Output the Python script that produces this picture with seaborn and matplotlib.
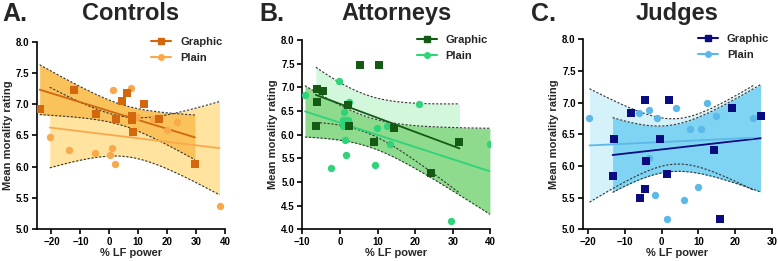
import numpy as np
import matplotlib
matplotlib.use("Agg")
import matplotlib.pyplot as plt
import seaborn as sns
from matplotlib.lines import Line2D

sns.set_style("ticks")
plt.rcParams['font.family'] = ['Liberation Sans', 'DejaVu Sans']
plt.rcParams['font.weight'] = 'bold'
plt.rcParams['axes.labelweight'] = 'bold'

# values
controls_graphic_x = [-24.1, -12.1, -4.7, 2.3, 4.4, 6.2, 7.9, 7.9, 8.1, 12.1, 17.1, 29.6]
controls_graphic_y = [6.93, 7.22, 6.84, 6.76, 7.05, 7.18, 6.81, 6.75, 6.55, 7.01, 6.76, 6.04]
controls_plain_x = [-20.6, -13.9, -4.9, 0.1, 0.8, 1.9, 1.3, 7.5, 9.7, 15.1, 20.0, 23.3, 38.1]
controls_plain_y = [6.47, 6.26, 6.22, 6.18, 6.30, 6.05, 7.22, 7.26, 6.80, 6.76, 6.59, 6.72, 5.37]

attorneys_graphic_x = [-6.2, -4.6, -6.0, -6.4, 2.2, 2.3, 5.3, 10.4, 9.0, 14.3, 31.8, 24.2]
attorneys_graphic_y = [6.97, 6.93, 6.68, 6.18, 6.63, 6.18, 7.48, 7.48, 5.85, 6.14, 5.85, 5.18]
attorneys_plain_x = [-9.3, -2.4, -0.2, 1.0, 0.9, 1.6, 2.2, 0.9, 1.4, 1.7, 2.5, 9.4, 9.9, 12.6, 13.3, 21.1, 39.9, 29.5]
attorneys_plain_y = [6.84, 5.30, 7.14, 6.47, 6.30, 6.30, 6.30, 6.18, 5.89, 5.56, 6.68, 5.35, 6.14, 6.18, 5.80, 6.64, 5.80, 4.18]

judges_graphic_x = [-12.9, -13.4, -8.4, -4.5, -0.5, -4.2, -4.5, -6.0, 2.0, 1.5, 14.3, 16.0, 19.2, 27.0]
judges_graphic_y = [6.42, 5.84, 6.84, 7.04, 6.42, 6.08, 5.63, 5.50, 7.04, 5.88, 6.25, 5.17, 6.92, 6.79]
judges_plain_x = [-19.7, -6.1, -3.4, -1.3, -3.4, -1.9, 3.9, 1.4, 7.6, 10.7, 12.4, 14.9, 10.0, 6.0, 25.0]
judges_plain_y = [6.75, 6.84, 6.88, 6.75, 6.13, 5.54, 6.92, 5.17, 6.58, 6.58, 7.0, 6.79, 5.67, 5.46, 6.75]

titles = ["Controls", "Attorneys", "Judges"]
letters = ["A.", "B.", "C."]
xlims = [(-25, 40), (-10, 40), (-21.4, 30)]
xticks = [[-20, -10, 0, 10, 20, 30, 40], [-10, 0, 10, 20, 30, 40], [-20, -10, 0, 10, 20, 30]]
ylims = [(5.0, 8.0), (4.0, 8.0), (5.0, 8.0)]

panels = [
    dict(g=(controls_graphic_x, controls_graphic_y), p=(controls_plain_x, controls_plain_y),
         gc="#D2670E", pc="#F9A94B", gfill="#F9C25A", pfill="#FFE39E", top="g"),
    dict(g=(attorneys_graphic_x, attorneys_graphic_y), p=(attorneys_plain_x, attorneys_plain_y),
         gc="#145A14", pc="#2FD37A", gfill="#D2F7DA", pfill="#8EDB8E", top="p"),
    dict(g=(judges_graphic_x, judges_graphic_y), p=(judges_plain_x, judges_plain_y),
         gc="#0B0B80", pc="#5BB8E8", gfill="#7FD4F3", pfill="#D5F1FA", top="g"),
]
positions = [[0.0476, 0.1215, 0.2416, 0.719],
             [0.3886, 0.1215, 0.2416, 0.7253],
             [0.7497, 0.1215, 0.2422, 0.728]]


def tcrit(df):
    z = 1.959964
    return (z + (z**3 + z) / (4 * df) + (5 * z**5 + 16 * z**3 + 3 * z) / (96 * df**2)
            + (3 * z**7 + 19 * z**5 + 17 * z**3 - 15 * z) / (384 * df**3))


def conf_band(x, y):
    x = np.asarray(x, float)
    y = np.asarray(y, float)
    n = len(x)
    b, a = np.polyfit(x, y, 1)
    grid = np.linspace(x.min(), x.max(), 120)
    fit = a + b * grid
    s = np.sqrt(((y - (a + b * x))**2).sum() / (n - 2))
    sxx = ((x - x.mean())**2).sum()
    h = tcrit(n - 2) * s * np.sqrt(1 / n + (grid - x.mean())**2 / sxx)
    return grid, fit - h, fit + h


fig = plt.figure(figsize=(7.78, 2.61), dpi=100)

for i, d in enumerate(panels):
    ax = fig.add_axes(positions[i])
    order = ["p", "g"] if d["top"] == "g" else ["g", "p"]
    for z, k in enumerate(order):
        gx, lo, hi = conf_band(*d[k])
        ax.fill_between(gx, lo, hi, color=d[k + "fill"], lw=0, zorder=1 + z)
    for k in ["g", "p"]:
        gx, lo, hi = conf_band(*d[k])
        ax.plot(gx, lo, ls=(0, (2, 1.5)), color="#333333", lw=0.8, zorder=3)
        ax.plot(gx, hi, ls=(0, (2, 1.5)), color="#333333", lw=0.8, zorder=3)
    for k in ["g", "p"]:
        sns.regplot(x=np.array(d[k][0]), y=np.array(d[k][1]), ax=ax, scatter=False, ci=None,
                    truncate=True, color=d[k + "c"], line_kws=dict(lw=1.3, zorder=4))
    for k, m in [("p", "o"), ("g", "s")]:
        sns.scatterplot(x=d[k][0], y=d[k][1], ax=ax, marker=m, color=d[k + "c"], s=28,
                        linewidth=0, zorder=5)

    ax.set_xlim(*xlims[i])
    ax.set_ylim(*ylims[i])
    ax.set_xticks(xticks[i])
    ax.set_yticks(np.arange(ylims[i][0], ylims[i][1] + 0.01, 0.5))
    ax.set_yticklabels([f"{v:.1f}" for v in ax.get_yticks()])
    ax.tick_params(labelsize=7, length=3.5, width=1.2, pad=2, colors="black")
    for t in ax.get_xticklabels() + ax.get_yticklabels():
        t.set_fontweight("bold")
    for sp in ["top", "right"]:
        ax.spines[sp].set_visible(False)
    for sp in ["left", "bottom"]:
        ax.spines[sp].set_linewidth(1.2)
        ax.spines[sp].set_color("black")
    ax.set_xlabel("% LF power", fontsize=8, fontweight="bold", labelpad=1)
    ax.set_ylabel("Mean morality rating", fontsize=8, fontweight="bold", labelpad=2)

    handles = [Line2D([0], [0], color=d["gc"], marker="s", markersize=4, lw=1.5),
               Line2D([0], [0], color=d["pc"], marker="o", markersize=4, lw=1.5)]
    ax.legend(handles, ["Graphic", "Plain"], loc="upper right", bbox_to_anchor=(1.04, 1.08),
              frameon=False, prop=dict(size=8, weight="bold"), handlelength=1.8,
              labelspacing=0.55, handletextpad=0.8)

    pos = positions[i]
    fig.text(pos[0] + pos[2] / 2, 0.948, titles[i], ha="center", va="center",
             fontsize=17, fontweight="bold")

fig.text(0.003, 0.948, letters[0], ha="left", va="center", fontsize=18, fontweight="bold")
fig.text(0.333, 0.948, letters[1], ha="left", va="center", fontsize=18, fontweight="bold")
fig.text(0.682, 0.948, letters[2], ha="left", va="center", fontsize=18, fontweight="bold")

fig.savefig("out.png", dpi=100)
